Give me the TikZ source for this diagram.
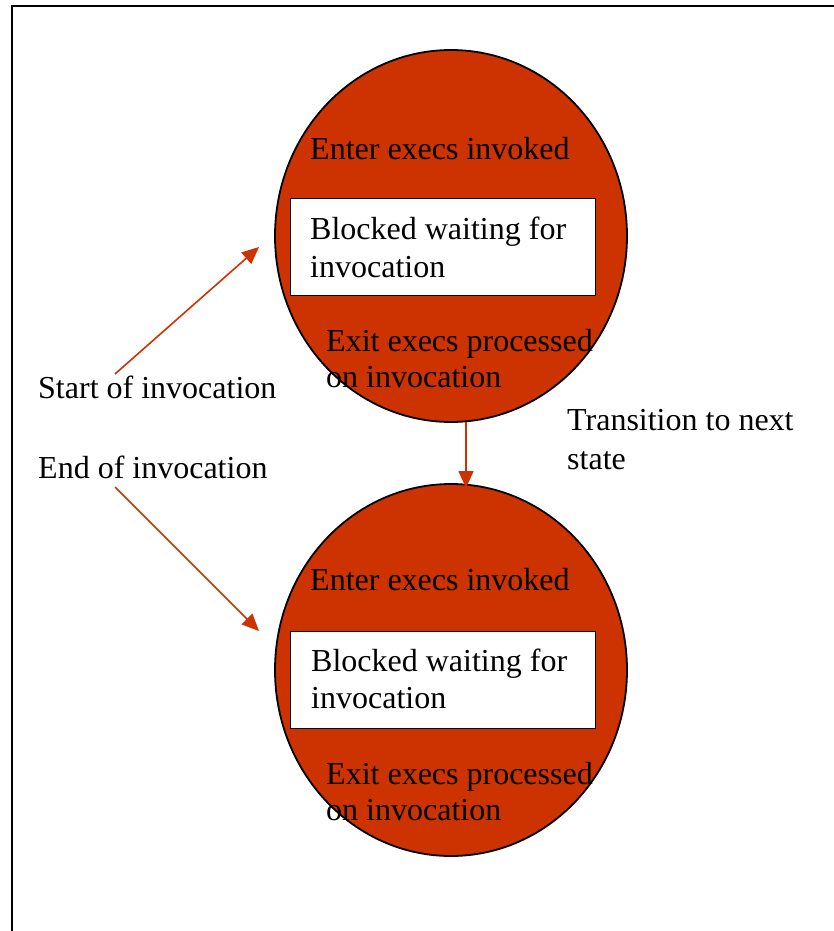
\documentclass[tikz,border=0pt]{standalone}
\usepackage{fontspec}
\setmainfont{Liberation Serif}
\usetikzlibrary{shapes.geometric,arrows.meta}
\definecolor{statefill}{HTML}{CC3300}
\tikzset{
  statenode/.style={ellipse, draw=black, line width=1.8pt, fill=statefill,
    minimum width=352pt, minimum height=372pt, inner sep=0pt},
  waitbox/.style={rectangle, draw=black, line width=1pt, fill=white,
    minimum width=305pt, minimum height=97pt, inner sep=0pt},
  txt/.style={anchor=base west, inner sep=0pt, font=\fontsize{32}{37}\selectfont, text=black},
  flow/.style={draw=statefill, line width=1.6pt, -{Triangle[length=17pt,width=15pt]}}
}
\begin{document}
\begin{tikzpicture}[x=1pt,y=-1pt]
\useasboundingbox (0,0) rectangle (834,931);
% outer frame (runs off the page at right and bottom)
\draw[line width=1.8pt] (12,6) rectangle (860,960);

% upper state
\node[statenode] (s1) at (451,236) {};
\node[waitbox] (b1) at (442.5,246.5) {};
\node[txt] (e1) at (310,159) {Enter execs invoked};
\node[txt] (w1a) at (310,239) {Blocked waiting for};
\node[txt] (w1b) at (310,277) {invocation};
\node[txt] (x1a) at (326,351) {Exit execs processed};
\node[txt] (x1b) at (326,387) {on invocation};

% lower state
\node[statenode] (s2) at (451,670) {};
\node[waitbox] (b2) at (443,679.5) {};
\node[txt] (e2) at (310,590) {Enter execs invoked};
\node[txt] (w2a) at (311,671) {Blocked waiting for};
\node[txt] (w2b) at (311,708) {invocation};
\node[txt] (x2a) at (326,784) {Exit execs processed};
\node[txt] (x2b) at (326,820) {on invocation};

% side labels
\node[txt] (start) at (38,398) {Start of invocation};
\node[txt] (end) at (38,478) {End of invocation};
\node[txt] (tr1) at (567,430) {Transition to next};
\node[txt] (tr2) at (567,469) {state};

% connector end points
\coordinate (sa) at (115,374);
\coordinate (sb) at (259,247);
\coordinate (ea) at (115,487);
\coordinate (eb) at (259,631);
\coordinate (ta) at (466,422);
\coordinate (tb) at (466,488);

\draw[flow] (sa) -- (sb);
\draw[flow] (ea) -- (eb);
\draw[flow] (ta) -- (tb);
\end{tikzpicture}
\end{document}
